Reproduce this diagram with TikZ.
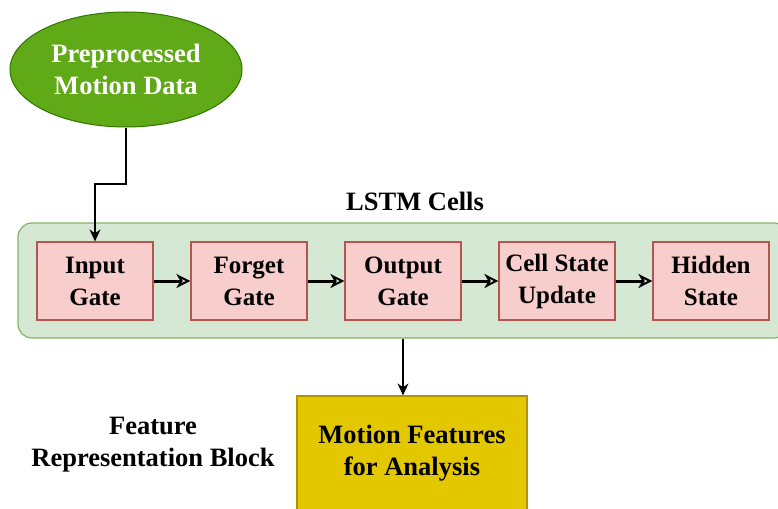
\documentclass[tikz,border=0pt]{standalone}
\usepackage{fontspec}
\setmainfont{Liberation Serif}
\usetikzlibrary{arrows.meta,shapes.geometric}

\definecolor{ellfill}{HTML}{60A917}
\definecolor{elldraw}{HTML}{2D7600}
\definecolor{cellfill}{HTML}{D5E8D4}
\definecolor{celldraw}{HTML}{82B366}
\definecolor{gatefill}{HTML}{F8CECC}
\definecolor{gatedraw}{HTML}{B85450}
\definecolor{featfill}{HTML}{E3C800}
\definecolor{featdraw}{HTML}{B09500}

\tikzset{
  lbl/.style={font=\fontsize{26.5}{32}\selectfont\bfseries, align=center},
  gate/.style={font=\fontsize{25}{32}\selectfont\bfseries, align=center,
    draw=gatedraw, fill=gatefill, line width=1.2pt,
    minimum width=116pt, minimum height=78pt, inner sep=0pt},
  link/.style={-{Stealth[open, length=14pt, width=14pt, line width=2pt, inset=4pt]},
    line width=3pt},
}

\begin{document}
\begin{tikzpicture}[x=1pt,y=-1pt]
  \useasboundingbox (0,0) rectangle (778,508);
  \clip (0,0) rectangle (778,508);
  \node[ellipse, draw=elldraw, fill=ellfill, line width=1pt, minimum width=232pt,
    minimum height=115pt, inner sep=0pt, lbl, text=white] (pd) at (126,69.5)
    {Preprocessed\\Motion Data};
  \node[draw=celldraw, fill=cellfill, line width=1.2pt, rounded corners=14pt,
    minimum width=770pt, minimum height=115pt] (lstm) at (403,280.5) {};
  \node[lbl] (lt) at (415,201) {LSTM Cells};
  \node[gate] (g1) at (95,281) {Input\\Gate};
  \node[gate] (g2) at (249,281) {Forget\\Gate};
  \node[gate] (g3) at (403,281) {Output\\Gate};
  \node[gate] (g4) at (557,281) {Cell State\\Update};
  \node[gate] (g5) at (711,281) {Hidden\\State};
  \node[draw=featdraw, fill=featfill, line width=1.2pt, minimum width=230pt,
    minimum height=150pt] (mf) at (412,471) {};
  \node[lbl] (mft) at (412,453) {Motion Features\\for Analysis};
  \node[lbl] (frb) at (153,445) {Feature\\Representation Block};
  \begin{scope}[line width=1.3pt]
    \coordinate (k) at (126,184);
    \draw[-{Stealth[length=12pt,width=11pt]}] (pd.south) -- (k) -| (g1.north);
    \draw[link] (g1) -- (g2);
    \draw[link] (g2) -- (g3);
    \draw[link] (g3) -- (g4);
    \draw[link] (g4) -- (g5);
    \draw[-{Stealth[length=12pt,width=11pt]}] (lstm.south) -- (lstm.south |- mf.north);
  \end{scope}
\end{tikzpicture}
\end{document}
